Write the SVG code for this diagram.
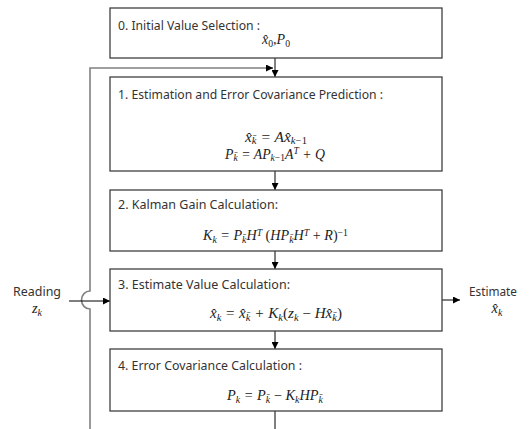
<svg xmlns="http://www.w3.org/2000/svg" width="530" height="429" viewBox="0 0 530 429">
<defs>
<marker id="ah" viewBox="0 0 10 10" refX="10" refY="5" markerWidth="7" markerHeight="7" markerUnits="userSpaceOnUse" orient="auto"><path d="M0,0 L10,5 L0,10 z" fill="#000"/></marker>
<style>
.box{fill:#fff;stroke:#404040;stroke-width:1.3}
.t{font-family:"Noto Sans","Open Sans",sans-serif;font-size:12.5px;fill:#333}
.m{font-family:"Liberation Serif",serif;font-style:italic;font-size:14.5px;fill:#222}
.r{font-style:normal}
.c{fill:none;stroke:#000;stroke-width:1}
.fb{fill:none;stroke:#808080;stroke-width:1.6}
</style>
</defs>
<rect width="530" height="429" fill="#fff"/>
<g id="connectors">
<path class="c" d="M275,58 V77" marker-end="url(#ah)"/>
<path class="c" d="M275,171 V190" marker-end="url(#ah)"/>
<path class="c" d="M275,251 V269" marker-end="url(#ah)"/>
<path class="c" d="M275,331 V349" marker-end="url(#ah)"/>
<path class="c" d="M275,411 V429"/>
<path class="fb" d="M90,429 V309 A8.5,9 0 0 1 90,291 V68 H268"/>
<path class="c" d="M268,68 H273" marker-end="url(#ah)"/>
<path class="c" d="M69,301 H110" marker-end="url(#ah)"/>
<path class="c" d="M442,300 H460" marker-end="url(#ah)"/>
</g>
<g id="n0">
<rect class="box" x="110" y="8" width="332" height="50"/>
<text class="t" x="118" y="30" textLength="142" lengthAdjust="spacingAndGlyphs">0. Initial Value Selection :</text>
<text class="m" x="262" y="44" textLength="28" lengthAdjust="spacingAndGlyphs">x̂<tspan class="r" font-size="10" dy="2.5">0</tspan><tspan dy="-2.5">,P</tspan><tspan class="r" font-size="10" dy="2.5">0</tspan></text>
</g>
<g id="n1">
<rect class="box" x="110" y="77" width="332" height="94"/>
<text class="t" x="118" y="99" textLength="265" lengthAdjust="spacingAndGlyphs">1. Estimation and Error Covariance Prediction :</text>
<text class="m" x="245" y="142" textLength="62" lengthAdjust="spacingAndGlyphs">x̂<tspan font-size="10" dy="2">k̄</tspan><tspan dy="-2"> = A</tspan>x̂<tspan font-size="10" dy="2">k<tspan class="r">−1</tspan></tspan></text>
<text class="m" x="225" y="158.5" textLength="100" lengthAdjust="spacingAndGlyphs">P<tspan font-size="10" dy="2.5">k̄</tspan><tspan dy="-2.5"> = AP</tspan><tspan font-size="10" dy="2.5">k<tspan class="r">−1</tspan></tspan><tspan dy="-2.5">A</tspan><tspan font-size="10" dy="-4.5">T</tspan><tspan dy="4.5"> + Q</tspan></text>
</g>
<g id="n2">
<rect class="box" x="110" y="190" width="332" height="61"/>
<text class="t" x="118" y="209" textLength="160" lengthAdjust="spacingAndGlyphs">2. Kalman Gain Calculation:</text>
<text class="m" x="203" y="240" textLength="145" lengthAdjust="spacingAndGlyphs">K<tspan font-size="10" dy="2.5">k</tspan><tspan dy="-2.5"> = P</tspan><tspan font-size="10" dy="2.5">k̄</tspan><tspan dy="-2.5">H</tspan><tspan font-size="10" dy="-4.5">T</tspan><tspan dy="4.5" class="r"> (</tspan><tspan>HP</tspan><tspan font-size="10" dy="2.5">k̄</tspan><tspan dy="-2.5">H</tspan><tspan font-size="10" dy="-4.5">T</tspan><tspan dy="4.5"><tspan class="r"> + </tspan>R<tspan class="r">)</tspan></tspan><tspan font-size="10" dy="-4.5" class="r">−1</tspan></text>
</g>
<g id="n3">
<rect class="box" x="110" y="269" width="332" height="62"/>
<text class="t" x="118" y="289" textLength="172" lengthAdjust="spacingAndGlyphs">3. Estimate Value Calculation:</text>
<text class="m" x="210" y="318" textLength="132" lengthAdjust="spacingAndGlyphs">x̂<tspan font-size="10" dy="2.5">k</tspan><tspan dy="-2.5"> = </tspan>x̂<tspan font-size="10" dy="2.5">k̄</tspan><tspan dy="-2.5"> + K</tspan><tspan font-size="10" dy="2.5">k</tspan><tspan dy="-2.5" class="r">(</tspan><tspan>z</tspan><tspan font-size="10" dy="2.5">k</tspan><tspan dy="-2.5"><tspan class="r"> − </tspan>H</tspan>x̂<tspan font-size="10" dy="2.5">k̄</tspan><tspan dy="-2.5" class="r">)</tspan></text>
</g>
<g id="n4">
<rect class="box" x="110" y="349" width="332" height="62"/>
<text class="t" x="118" y="370" textLength="184" lengthAdjust="spacingAndGlyphs">4. Error Covariance Calculation :</text>
<text class="m" x="227" y="400" textLength="96" lengthAdjust="spacingAndGlyphs">P<tspan font-size="10" dy="2.5">k</tspan><tspan dy="-2.5"> = P</tspan><tspan font-size="10" dy="2.5">k̄</tspan><tspan dy="-2.5"><tspan class="r"> − </tspan>K</tspan><tspan font-size="10" dy="2.5">k</tspan><tspan dy="-2.5">HP</tspan><tspan font-size="10" dy="2.5">k̄</tspan></text>
</g>
<g id="reading">
<text class="t" x="37" y="296" text-anchor="middle" textLength="48" lengthAdjust="spacingAndGlyphs">Reading</text>
<text class="m" x="37" y="313" text-anchor="middle">z<tspan font-size="10" dy="2.5">k</tspan></text>
</g>
<g id="estimate">
<text class="t" x="493" y="296" text-anchor="middle" textLength="48" lengthAdjust="spacingAndGlyphs">Estimate</text>
<text class="m" x="497" y="313" text-anchor="middle">x̂<tspan font-size="10" dy="2.5">k</tspan></text>
</g>
</svg>
